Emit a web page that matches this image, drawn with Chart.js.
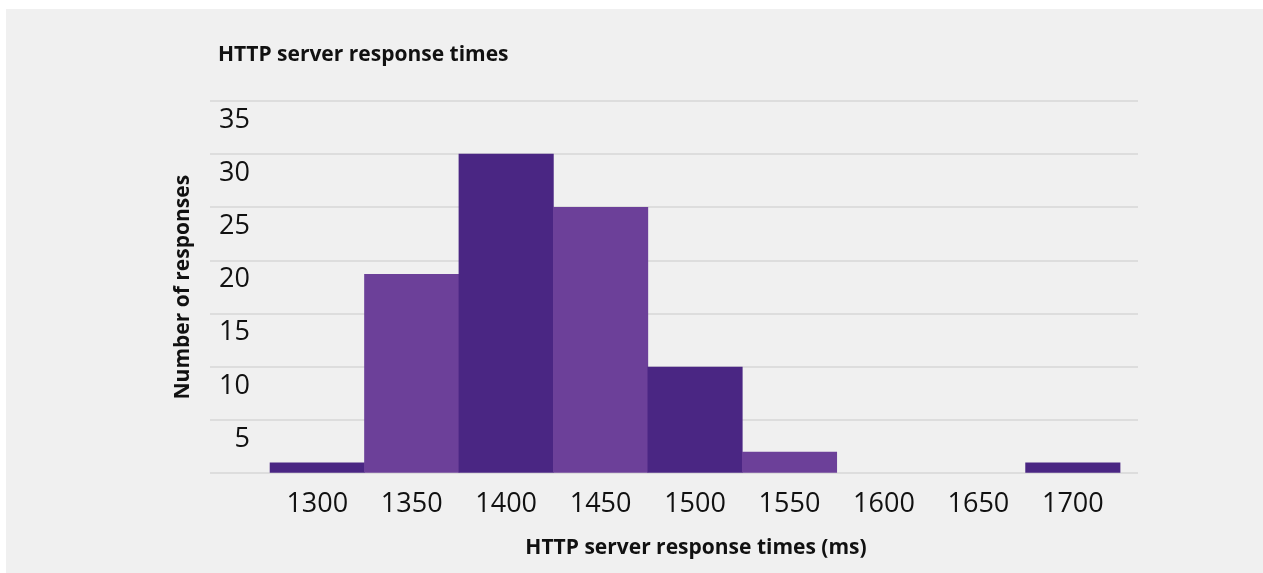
<!DOCTYPE html>
<html>
<head>
<meta charset="utf-8">
<script src="https://cdn.jsdelivr.net/npm/chart.js@4"></script>
<style>
  html, body { margin: 0; padding: 0; background: #ffffff; overflow: hidden; }
  #wrap { position: absolute; left: 6px; top: 9px; width: 1257px; height: 564px; background: #f0f0f0; }
</style>
</head>
<body>
<div id="wrap"><canvas id="histChart"></canvas></div>
<script>
// Histogram bins (ms) and counts
const bins = [1300, 1350, 1400, 1450, 1500, 1550, 1600, 1650, 1700];
const counts = [1, 18.7, 30, 25, 10, 2, 0, 0, 1];
const yTicks = [0, 5, 10, 15, 20, 25, 30, 35];
const barColors = ['#4a2683', '#6c4099'];

const chartTitle = 'HTTP server response times';
const fontFamily = '"Open Sans", "Noto Sans", sans-serif';

// title drawn at the left end of the gridlines
const titlePlugin = {
    id: 'leftTitle',
    afterDraw(chart) {
        const y = chart.scales.y;
        const ctx = chart.ctx;
        ctx.save();
        ctx.font = 'bold 21px ' + fontFamily;
        ctx.fillStyle = '#111111';
        ctx.textAlign = 'left';
        ctx.textBaseline = 'middle';
        ctx.fillText(chartTitle, y.right - y.options.grid.tickLength + 8, chart.chartArea.top - 46);
        ctx.restore();
    }
};

function createHistogram() {
    const ctx = document.getElementById('histChart').getContext('2d');
    new Chart(ctx, {
        type: 'bar',
        data: {
            datasets: [{
                label: 'Number of responses',
                data: bins.map((b, i) => ({ x: b, y: counts[i] })),
                backgroundColor: bins.map((b, i) => barColors[i % 2]),
                borderWidth: 0,
                barPercentage: 1,
                categoryPercentage: 1,
                inflateAmount: c => (c.raw && c.raw.y === 0 ? 0 : 'auto')
            }]
        },
        options: {
            responsive: true,
            maintainAspectRatio: false,
            animation: false,
            layout: { padding: { top: 92, left: 164, right: 125, bottom: 12 } },
            plugins: {
                legend: { display: false },
                tooltip: { enabled: false },
                title: { display: false }
            },
            scales: {
                x: {
                    type: 'linear',
                    min: 1266.5,
                    max: 1734.5,
                    offset: false,
                    grid: { display: false, drawTicks: false },
                    border: { display: false },
                    afterBuildTicks: axis => { axis.ticks = bins.map(v => ({ value: v })); },
                    ticks: {
                        autoSkip: false,
                        maxRotation: 0,
                        padding: 15,
                        color: '#111111',
                        font: { family: fontFamily, size: 27 },
                        callback: v => String(v)
                    },
                    title: {
                        display: true,
                        text: 'HTTP server response times (ms)',
                        color: '#111111',
                        font: { family: fontFamily, size: 21, weight: 'bold' },
                        padding: { top: 0, bottom: 0 }
                    }
                },
                y: {
                    min: 0,
                    max: 35,
                    afterBuildTicks: axis => { axis.ticks = yTicks.map(v => ({ value: v })); },
                    afterFit: axis => { axis.width = 84; },
                    grid: { color: '#dddddd', lineWidth: 2, drawTicks: true, tickLength: 44 },
                    border: { display: false },
                    ticks: {
                        padding: -40,
                        labelOffset: 19,
                        color: '#111111',
                        font: { family: fontFamily, size: 27 },
                        callback: v => (v === 0 ? '' : String(v))
                    },
                    title: {
                        display: true,
                        text: 'Number of responses',
                        color: '#111111',
                        font: { family: fontFamily, size: 21, weight: 'bold' },
                        padding: { top: 0, bottom: 0 }
                    }
                }
            }
        },
        plugins: [titlePlugin]
    });
}

createHistogram();
</script>
</body>
</html>
